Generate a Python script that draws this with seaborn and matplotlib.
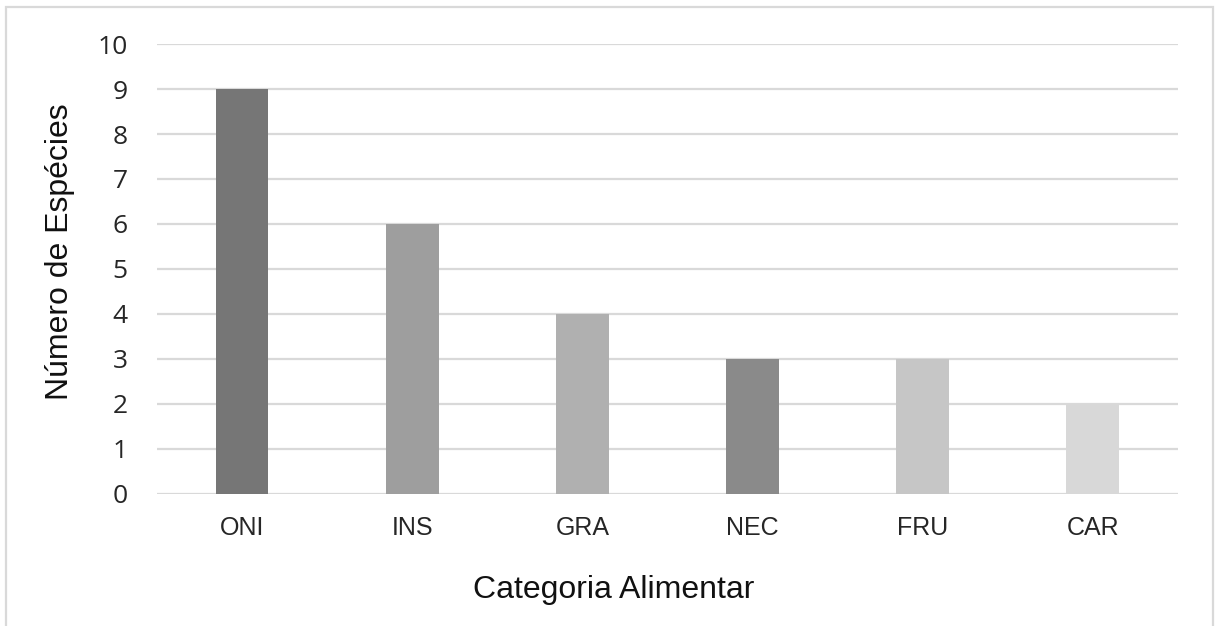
import matplotlib
matplotlib.use("Agg")
import matplotlib.pyplot as plt
from matplotlib.patches import Rectangle
import seaborn as sns
import pandas as pd

categorias = ["ONI", "INS", "GRA", "NEC", "FRU", "CAR"]
especies = [9, 6, 4, 3, 3, 2]
cores = ["#767676", "#9e9e9e", "#b0b0b0", "#8a8a8a", "#c6c6c6", "#d8d8d8"]
y_ticks = list(range(0, 11))

sns.set_style("white")
plt.rcParams["font.family"] = ["Liberation Sans", "DejaVu Sans"]

df = pd.DataFrame({"categoria": categorias, "especies": especies})

fig = plt.figure(figsize=(12.15, 6.26), dpi=100)
ax = fig.add_axes([0.1292, 0.2109, 0.8403, 0.7188])

sns.barplot(data=df, x="categoria", y="especies", hue="categoria",
            palette=cores, width=0.31, legend=False, ax=ax,
            saturation=1, edgecolor="none", zorder=3)

ax.set_ylim(0, 10)
ax.set_xlim(-0.5, len(categorias) - 0.5)
ax.set_yticks(y_ticks)
ax.yaxis.grid(True, color="#d9d9d9", linewidth=1.6, zorder=0)
ax.set_axisbelow(True)
for s in ax.spines.values():
    s.set_visible(False)
ax.tick_params(axis="both", length=0)
ax.tick_params(axis="y", pad=21, labelsize=19, labelcolor="#262626")
ax.tick_params(axis="x", pad=16, labelsize=18, labelcolor="#262626")
for lbl in ax.get_yticklabels():
    lbl.set_family(["Open Sans", "DejaVu Sans"])

ax.set_xlabel("")
ax.set_ylabel("")
fig.text(614 / 1215, 1 - 590 / 626, "Categoria Alimentar", ha="center",
         va="center", fontsize=23, color="#111111")
fig.text(60 / 1215, 1 - 252 / 626, "Número de Espécies", ha="center",
         va="center", rotation=90, fontsize=23, color="#111111")

# light frame around the chart area
frame = Rectangle((6 / 1215, -0.05), (1213 - 6) / 1215, 1.05 - 7 / 626,
                  transform=fig.transFigure, fill=False,
                  edgecolor="#d9d9d9", linewidth=1.6, clip_on=False)
fig.patches.append(frame)

fig.savefig("out.png", dpi=100)
